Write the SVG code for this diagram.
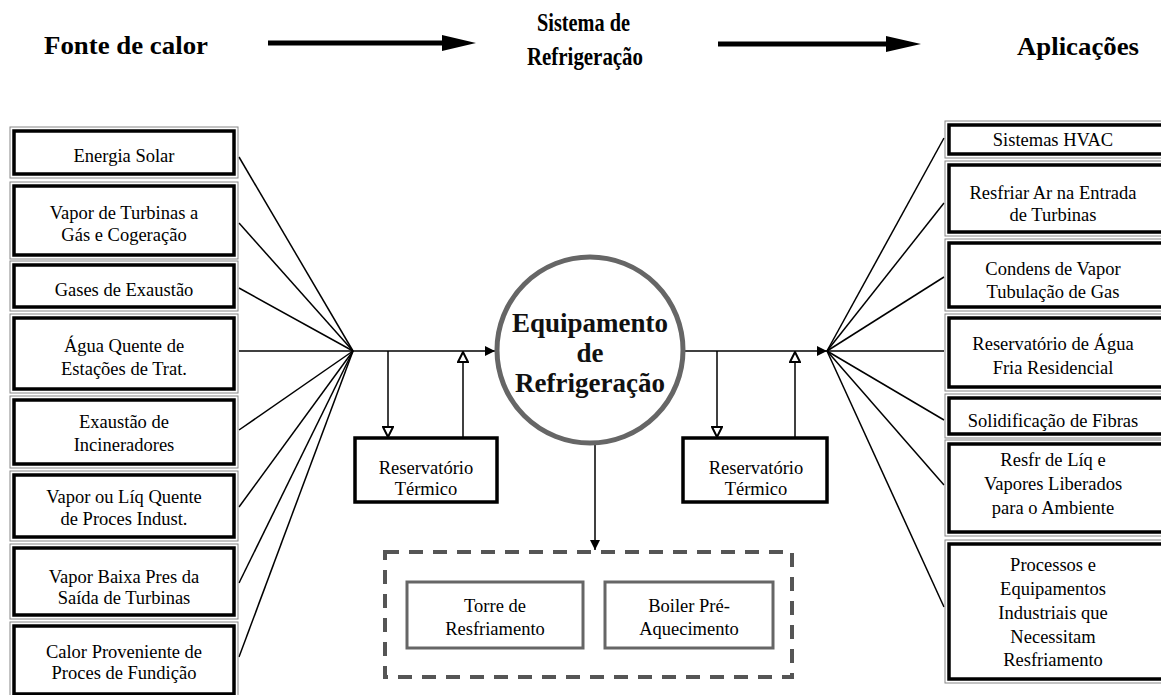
<svg xmlns="http://www.w3.org/2000/svg" width="1161" height="695" viewBox="0 0 1161 695">
<defs>
<style>
text{font-family:"Liberation Serif","Times New Roman",serif}
.t{font-size:18.5px;fill:#000;text-anchor:middle}
.h{font-weight:bold;fill:#000}
.c{font-weight:bold;font-size:27px;fill:#111;text-anchor:middle}
.o{fill:#fff;stroke:#888;stroke-width:1}
.i{fill:none;stroke:#000;stroke-width:3.5}
.ln{stroke:#000;stroke-width:1.5;fill:none}
.res{fill:#fff;stroke:#000;stroke-width:3.5}
.gb{fill:#fff;stroke:#666;stroke-width:3}
</style>
<marker id="ab" viewBox="0 0 10 10" refX="10" refY="5" markerWidth="10" markerHeight="10" markerUnits="userSpaceOnUse" orient="auto">
<path d="M0,0 L10,5 L0,10 Z" fill="#000"/>
</marker>
<marker id="ao" viewBox="0 0 12 12" refX="11" refY="6" markerWidth="12" markerHeight="12" markerUnits="userSpaceOnUse" orient="auto">
<path d="M1,1 L11,6 L1,11 Z" fill="#fff" stroke="#000" stroke-width="2"/>
</marker>
</defs>
<rect width="1161" height="695" fill="#fff"/>

<g id="headers">
<text class="h" x="44" y="54" font-size="26" textLength="164" lengthAdjust="spacingAndGlyphs">Fonte de calor</text>
<text class="h" x="537" y="31" font-size="26" textLength="93" lengthAdjust="spacingAndGlyphs">Sistema de</text>
<text class="h" x="527" y="65" font-size="26" textLength="116" lengthAdjust="spacingAndGlyphs">Refrigeração</text>
<text class="h" x="1017" y="55" font-size="26" textLength="122" lengthAdjust="spacingAndGlyphs">Aplicações</text>
<line x1="268" y1="43" x2="446" y2="43" stroke="#000" stroke-width="5"/>
<polygon points="442,35 476,43 442,51" fill="#000"/>
<line x1="718" y1="44" x2="890" y2="44" stroke="#000" stroke-width="5"/>
<polygon points="886,36 921,44 886,52" fill="#000"/>
</g>

<g id="connectors">
<line class="ln" x1="239" y1="157" x2="353" y2="351"/>
<line class="ln" x1="239" y1="223" x2="353" y2="351"/>
<line class="ln" x1="239" y1="288" x2="353" y2="351"/>
<line class="ln" x1="239" y1="351" x2="353" y2="351"/>
<line class="ln" x1="239" y1="430" x2="353" y2="351"/>
<line class="ln" x1="239" y1="507" x2="353" y2="351"/>
<line class="ln" x1="239" y1="583" x2="353" y2="351"/>
<line class="ln" x1="239" y1="657" x2="353" y2="351"/>
<line class="ln" x1="353" y1="351" x2="495" y2="351" marker-end="url(#ab)"/>
<line class="ln" x1="388" y1="351" x2="388" y2="437" marker-end="url(#ao)"/>
<line class="ln" x1="463" y1="437" x2="463" y2="352" marker-end="url(#ao)"/>
<line class="ln" x1="685" y1="351" x2="827" y2="351" marker-end="url(#ab)"/>
<line class="ln" x1="717" y1="351" x2="717" y2="437" marker-end="url(#ao)"/>
<line class="ln" x1="795" y1="437" x2="795" y2="352" marker-end="url(#ao)"/>
<line class="ln" x1="827" y1="351" x2="944" y2="138"/>
<line class="ln" x1="827" y1="351" x2="944" y2="203"/>
<line class="ln" x1="827" y1="351" x2="944" y2="277"/>
<line class="ln" x1="827" y1="351" x2="944" y2="351"/>
<line class="ln" x1="827" y1="351" x2="944" y2="420"/>
<line class="ln" x1="827" y1="351" x2="944" y2="485"/>
<line class="ln" x1="827" y1="351" x2="944" y2="607"/>
<line class="ln" x1="595" y1="443" x2="595" y2="550" marker-end="url(#ab)"/>
</g>

<g id="src-1"><rect class="o" x="10" y="127" width="228" height="51"/><rect class="i" x="14" y="131" width="220" height="43"/><text class="t" x="124" y="162">Energia Solar</text></g>
<g id="src-2"><rect class="o" x="10" y="182" width="228" height="77"/><rect class="i" x="14" y="186" width="220" height="69"/><text class="t" x="124" y="219">Vapor de Turbinas a</text><text class="t" x="124" y="241">Gás e Cogeração</text></g>
<g id="src-3"><rect class="o" x="10" y="261" width="228" height="50"/><rect class="i" x="14" y="265" width="220" height="42"/><text class="t" x="124" y="296">Gases de Exaustão</text></g>
<g id="src-4"><rect class="o" x="10" y="314" width="228" height="79"/><rect class="i" x="14" y="318" width="220" height="71"/><text class="t" x="124" y="352">Água Quente de</text><text class="t" x="124" y="375">Estações de Trat.</text></g>
<g id="src-5"><rect class="o" x="10" y="396" width="228" height="72"/><rect class="i" x="14" y="400" width="220" height="64"/><text class="t" x="124" y="428">Exaustão de</text><text class="t" x="124" y="451">Incineradores</text></g>
<g id="src-6"><rect class="o" x="10" y="471" width="228" height="70"/><rect class="i" x="14" y="475" width="220" height="62"/><text class="t" x="124" y="503">Vapor ou Líq  Quente</text><text class="t" x="124" y="525">de Proces  Indust.</text></g>
<g id="src-7"><rect class="o" x="10" y="544" width="228" height="75"/><rect class="i" x="14" y="548" width="220" height="67"/><text class="t" x="124" y="583">Vapor Baixa Pres  da</text><text class="t" x="124" y="604">Saída de Turbinas</text></g>
<g id="src-8"><rect class="o" x="10" y="622" width="228" height="76"/><rect class="i" x="14" y="626" width="220" height="68"/><text class="t" x="124" y="658">Calor Proveniente de</text><text class="t" x="124" y="679">Proces  de Fundição</text></g>

<g id="equip">
<circle cx="590" cy="350" r="93" fill="#fff" stroke="#666" stroke-width="5"/>
<text class="c" x="590" y="332">Equipamento</text>
<text class="c" x="590" y="362">de</text>
<text class="c" x="590" y="392">Refrigeração</text>
</g>

<g id="res-left"><rect class="res" x="355" y="438" width="142" height="64"/><text class="t" x="426" y="474">Reservatório</text><text class="t" x="426" y="495">Térmico</text></g>
<g id="res-right"><rect class="res" x="683" y="438" width="144" height="64"/><text class="t" x="756" y="474">Reservatório</text><text class="t" x="756" y="495">Térmico</text></g>

<g id="group-dashed"><rect x="385" y="552" width="407" height="125" fill="none" stroke="#555" stroke-width="4" stroke-dasharray="14 10"/></g>
<g id="torre"><rect class="gb" x="407" y="582" width="176" height="66"/><text class="t" x="495" y="612">Torre de</text><text class="t" x="495" y="635">Resfriamento</text></g>
<g id="boiler"><rect class="gb" x="605" y="582" width="168" height="66"/><text class="t" x="689" y="612">Boiler Pré-</text><text class="t" x="689" y="635">Aquecimento</text></g>

<g id="app-1"><rect class="o" x="945" y="121" width="220" height="37"/><rect class="i" x="949" y="125" width="220" height="29"/><text class="t" x="1053" y="146">Sistemas HVAC</text></g>
<g id="app-2"><rect class="o" x="945" y="161" width="220" height="75"/><rect class="i" x="949" y="165" width="220" height="67"/><text class="t" x="1053" y="199">Resfriar Ar na Entrada</text><text class="t" x="1053" y="221">de Turbinas</text></g>
<g id="app-3"><rect class="o" x="945" y="239" width="220" height="72"/><rect class="i" x="949" y="243" width="220" height="64"/><text class="t" x="1053" y="275">Condens  de Vapor</text><text class="t" x="1053" y="298">Tubulação de Gas</text></g>
<g id="app-4"><rect class="o" x="945" y="314" width="220" height="77"/><rect class="i" x="949" y="318" width="220" height="69"/><text class="t" x="1053" y="350">Reservatório de Água</text><text class="t" x="1053" y="374">Fria Residencial</text></g>
<g id="app-5"><rect class="o" x="945" y="394" width="220" height="44"/><rect class="i" x="949" y="398" width="220" height="36"/><text class="t" x="1053" y="427">Solidificação de Fibras</text></g>
<g id="app-6"><rect class="o" x="945" y="440" width="220" height="96"/><rect class="i" x="949" y="444" width="220" height="88"/><text class="t" x="1053" y="466">Resfr  de Líq  e</text><text class="t" x="1053" y="490">Vapores Liberados</text><text class="t" x="1053" y="514">para o Ambiente</text></g>
<g id="app-7"><rect class="o" x="945" y="540" width="220" height="143"/><rect class="i" x="949" y="544" width="220" height="135"/><text class="t" x="1053" y="571">Processos e</text><text class="t" x="1053" y="595">Equipamentos</text><text class="t" x="1053" y="619">Industriais que</text><text class="t" x="1053" y="643">Necessitam</text><text class="t" x="1053" y="666">Resfriamento</text></g>
</svg>
